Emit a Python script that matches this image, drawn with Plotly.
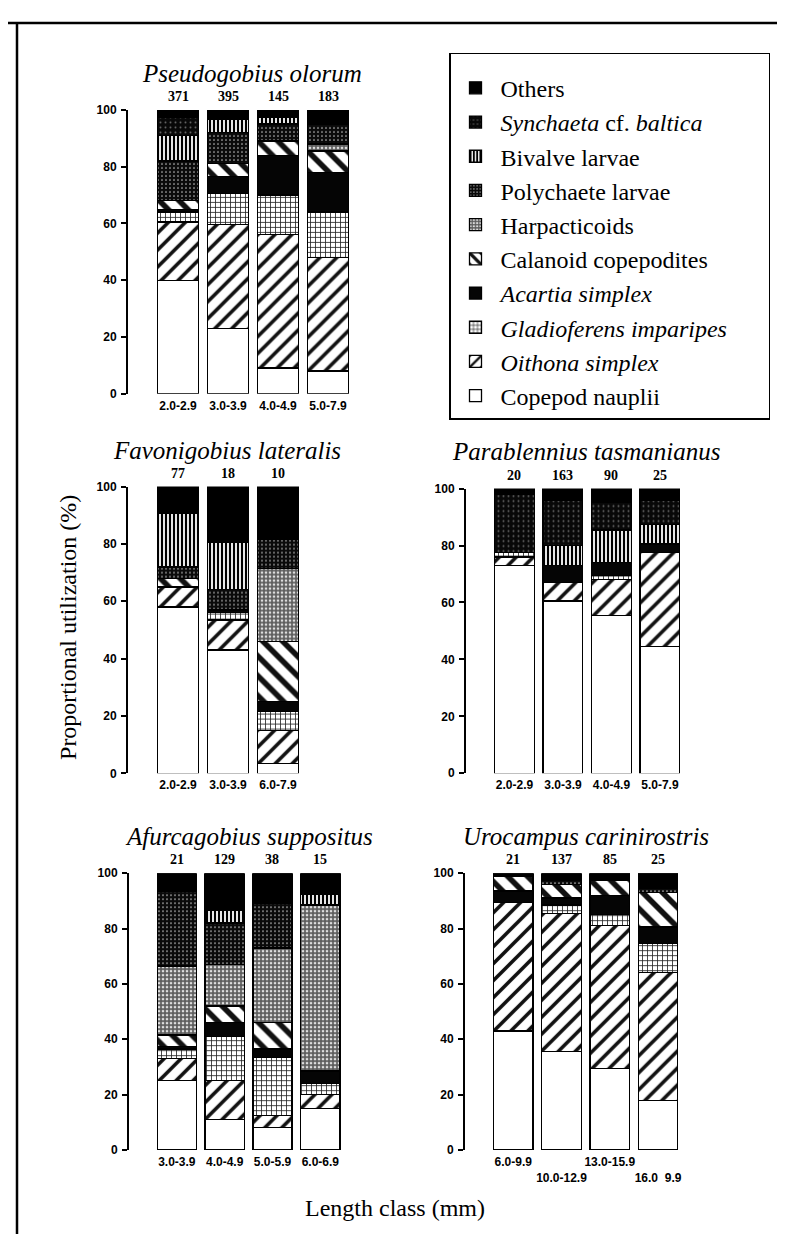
import plotly.graph_objects as go

W, H = 785, 1234

# ---------------- data ----------------
categories = ["Copepod nauplii", "Oithona simplex", "Gladioferens imparipes", "Acartia simplex",
              "Calanoid copepodites", "Harpacticoids", "Polychaete larvae", "Bivalve larvae",
              "Synchaeta cf. baltica", "Others"]
legend_names = ["Copepod nauplii", "<i>Oithona simplex</i>",
                "<i>Gladioferens imparipes</i>" + "\u00a0" * 6,
                "<i>Acartia simplex</i>", "Calanoid copepodites", "Harpacticoids",
                "Polychaete larvae", "Bivalve larvae", "<i>Synchaeta</i> cf. <i>baltica</i>", "Others"]

# Pseudogobius olorum
po_classes = ["2.0-2.9", "3.0-3.9", "4.0-4.9", "5.0-7.9"]
po_n = [371, 395, 145, 183]
po_values = {
    "Copepod nauplii":        [40, 23, 9, 8],
    "Oithona simplex":        [20.5, 36.5, 47, 40],
    "Gladioferens imparipes": [3.5, 11, 14, 16],
    "Acartia simplex":        [1, 6, 14, 14],
    "Calanoid copepodites":   [3, 4.5, 5, 7.5],
    "Harpacticoids":          [0, 0, 0, 2.5],
    "Polychaete larvae":      [14, 11, 6, 7],
    "Bivalve larvae":         [9, 4.5, 2.5, 0],
    "Synchaeta cf. baltica":  [6.5, 0, 0, 0],
    "Others":                 [2.5, 3.5, 2.5, 5],
}

# Favonigobius lateralis
fl_classes = ["2.0-2.9", "3.0-3.9", "6.0-7.9"]
fl_n = [77, 18, 10]
fl_values = {
    "Copepod nauplii":        [58, 43, 3.5],
    "Oithona simplex":        [7, 10.5, 11.5],
    "Gladioferens imparipes": [0, 2.5, 6.5],
    "Acartia simplex":        [0, 1, 3.5],
    "Calanoid copepodites":   [3, 0, 21],
    "Harpacticoids":          [0, 0, 25.5],
    "Polychaete larvae":      [4, 7, 10],
    "Bivalve larvae":         [18.5, 16.5, 0],
    "Synchaeta cf. baltica":  [0, 0, 0],
    "Others":                 [9.5, 19.5, 18.5],
}

# Parablennius tasmanianus
pt_classes = ["2.0-2.9", "3.0-3.9", "4.0-4.9", "5.0-7.9"]
pt_n = [20, 163, 90, 25]
pt_values = {
    "Copepod nauplii":        [73, 60.5, 55.5, 44.5],
    "Oithona simplex":        [3, 6.5, 12.5, 33],
    "Gladioferens imparipes": [1.5, 0, 1.5, 0],
    "Acartia simplex":        [0, 6, 4.5, 3],
    "Calanoid copepodites":   [0, 0, 0, 0],
    "Harpacticoids":          [0, 0, 0, 0],
    "Polychaete larvae":      [0, 0, 0, 0],
    "Bivalve larvae":         [0, 7, 11.5, 7],
    "Synchaeta cf. baltica":  [20.5, 16, 9.5, 8.5],
    "Others":                 [2, 4, 5, 4],
}

# Afurcagobius suppositus
as_classes = ["3.0-3.9", "4.0-4.9", "5.0-5.9", "6.0-6.9"]
as_n = [21, 129, 38, 15]
as_values = {
    "Copepod nauplii":        [25, 11, 8, 15],
    "Oithona simplex":        [8, 14, 4.5, 5],
    "Gladioferens imparipes": [3.5, 16, 21, 4],
    "Acartia simplex":        [1, 5, 3, 4.5],
    "Calanoid copepodites":   [4, 6, 9.5, 0],
    "Harpacticoids":          [25, 15, 27, 60],
    "Polychaete larvae":      [27, 15, 16, 0],
    "Bivalve larvae":         [0, 4.5, 0, 4],
    "Synchaeta cf. baltica":  [0, 0, 0, 0],
    "Others":                 [6.5, 13.5, 11, 7.5],
}

# Urocampus carinirostris
uc_classes = ["6.0-9.9", "<br>10.0-12.9", "13.0-15.9", "<br>16.0  9.9"]
uc_n = [21, 137, 85, 25]
uc_values = {
    "Copepod nauplii":        [43, 35.5, 29.5, 18],
    "Oithona simplex":        [46.5, 50, 51.5, 46],
    "Gladioferens imparipes": [0, 3, 4, 10.5],
    "Acartia simplex":        [4, 2.5, 7, 6],
    "Calanoid copepodites":   [5.5, 5, 5.5, 12.5],
    "Harpacticoids":          [0, 0, 0, 0],
    "Polychaete larvae":      [0, 1.5, 0, 1.5],
    "Bivalve larvae":         [0, 0, 0, 0],
    "Synchaeta cf. baltica":  [0, 0, 0, 0],
    "Others":                 [1, 2.5, 2.5, 5.5],
}

y_ticks = [0, 20, 40, 60, 80, 100]

# ---------------- styles ----------------
def pat(shape, fg, bg, size, sol):
    return dict(shape=shape, fgcolor=fg, bgcolor=bg, size=size, solidity=sol, fillmode="replace")

styles = {
    "Copepod nauplii":        dict(color="white"),
    "Oithona simplex":        dict(color="white", pattern=pat("/", "#111", "white", 12, 0.3)),
    "Gladioferens imparipes": dict(color="white", pattern=pat("+", "#222", "white", 5, 0.3)),
    "Acartia simplex":        dict(color="#050505"),
    "Calanoid copepodites":   dict(color="white", pattern=pat("\\", "#111", "white", 14, 0.4)),
    "Harpacticoids":          dict(color="#777", pattern=pat(".", "#dddddd", "#5e5e5e", 4, 0.35)),
    "Polychaete larvae":      dict(color="black", pattern=pat(".", "#bbbbbb", "#0a0a0a", 4, 0.15)),
    "Bivalve larvae":         dict(color="white", pattern=pat("|", "#000", "white", 4, 0.55)),
    "Synchaeta cf. baltica":  dict(color="black", pattern=pat(".", "#666", "#080808", 5, 0.12)),
    "Others":                 dict(color="#000"),
}

SERIF = "Liberation Serif, Times New Roman, serif"
SANS = "Liberation Sans Narrow, Liberation Sans, Arial, sans-serif"

# panels: (title, classes, n, values, x-domain px, y-domain px, title centre px)
panels = [
    ("Pseudogobius olorum", po_classes, po_n, po_values, (120, 350), (96, 383), 244),
    ("Favonigobius lateralis", fl_classes, fl_n, fl_values, (120, 350), (477, 767), 219),
    ("Parablennius tasmanianus", pt_classes, pt_n, pt_values, (458, 681), (479, 767), 578),
    ("Afurcagobius suppositus", as_classes, as_n, as_values, (121, 341), (868, 1148), 241),
    ("Urocampus carinirostris", uc_classes, uc_n, uc_values, (457, 679), (868, 1148), 578),
]

fig = go.Figure()
annotations = []
layout_axes = {}

for k, (title, classes, ns, values, xd, yd, tc) in enumerate(panels, start=1):
    xs = list(range(len(classes)))
    sfx = "" if k == 1 else str(k)
    for ci, cat in enumerate(categories):
        st = styles[cat]
        marker = dict(color=st["color"], line=dict(color="black", width=1.3))
        if "pattern" in st:
            marker["pattern"] = st["pattern"]
        fig.add_trace(go.Bar(
            x=xs, y=values[cat], name=legend_names[ci], legendgroup=cat,
            legendrank=100 - ci * 10,
            showlegend=(k == 1), marker=marker, width=0.82,
            xaxis="x" + sfx, yaxis="y" + sfx, hoverinfo="skip"))
    layout_axes["xaxis" + sfx] = dict(
        domain=[xd[0] / W, xd[1] / W], range=[-1, 3.6], anchor="y" + sfx,
        tickmode="array", tickvals=xs, ticktext=classes, ticks="", showline=False,
        showgrid=False, zeroline=False, ticklabelstandoff=3, tickangle=0,
        tickfont=dict(family=SANS, size=12, color="black", weight="bold"))
    layout_axes["yaxis" + sfx] = dict(
        domain=[1 - yd[1] / H, 1 - yd[0] / H], range=[0, 100], anchor="x" + sfx,
        tickmode="array", tickvals=y_ticks, ticks="outside", ticklen=5, tickwidth=1.5,
        tickcolor="black", showline=True, linecolor="black", linewidth=2,
        showgrid=False, zeroline=False, ticklabelstandoff=2,
        tickfont=dict(family=SANS, size=12, color="black", weight="bold"))
    # n labels
    for xi, nv in zip(xs, ns):
        annotations.append(dict(x=xi, y=100, xref="x" + sfx, yref="y" + sfx, text=str(nv),
                                showarrow=False, yanchor="bottom", yshift=4,
                                font=dict(family=SERIF, size=14, color="black", weight="bold")))
    # panel title
    annotations.append(dict(x=tc / W, y=1 - (yd[0] - 37) / H, xref="paper", yref="paper",
                            text=title, showarrow=False, xanchor="center", yanchor="middle",
                            font=dict(family=SERIF, size=25, color="black", style="italic")))

annotations.append(dict(x=45 / W, y=1 - 620 / H, xref="paper", yref="paper",
                        text="Proportional utilization (%)", textangle=-90, showarrow=False,
                        font=dict(family=SERIF, size=24, color="black")))
annotations.append(dict(x=387 / W, y=1 - 1222 / H, xref="paper", yref="paper",
                        text="Length class (mm)", showarrow=False,
                        font=dict(family=SERIF, size=24, color="black")))

shapes = [
    dict(type="line", xref="paper", yref="paper", x0=0, x1=1, y0=1 - 8 / H, y1=1 - 8 / H,
         line=dict(color="black", width=2.5)),
    dict(type="line", xref="paper", yref="paper", x0=9 / W, x1=9 / W, y0=0, y1=1 - 8 / H,
         line=dict(color="black", width=2.5)),
]

fig.update_layout(
    width=W, height=H, margin=dict(l=0, r=0, t=0, b=0),
    paper_bgcolor="white", plot_bgcolor="white", barmode="stack",
    annotations=annotations, shapes=shapes,
    legend=dict(x=441 / W, y=1 - 38 / H, xanchor="left", yanchor="top",
                traceorder="normal", tracegroupgap=0, itemwidth=40,
                title=dict(text="\u00a0", font=dict(family=SERIF, size=9)),
                bgcolor="white", bordercolor="black", borderwidth=1.5,
                font=dict(family=SERIF, size=24, color="black")),
    **layout_axes,
)

fig.write_html("out.html")
